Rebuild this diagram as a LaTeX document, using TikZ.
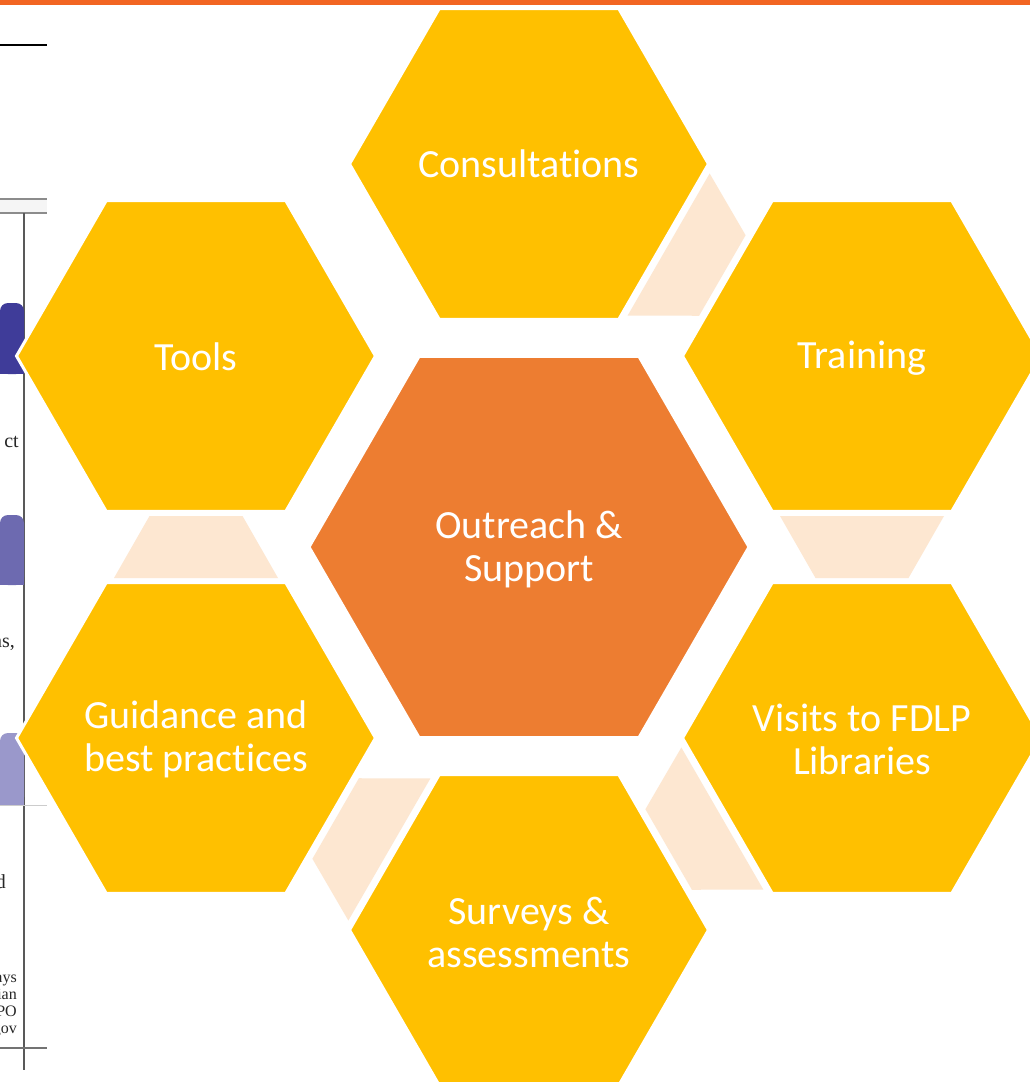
\documentclass[tikz,border=0pt]{standalone}
\usepackage{fontspec}
\setmainfont{Carlito}[Ligatures=NoCommon]
\newfontfamily\docfont{Liberation Serif}
\definecolor{hexyellow}{HTML}{FFC000}
\definecolor{hexorange}{HTML}{ED7D31}
\definecolor{peach}{HTML}{FDE7D1}
\definecolor{topbar}{HTML}{F26522}
\definecolor{boxA}{HTML}{3F3C99}
\definecolor{boxB}{HTML}{6D6AB0}
\definecolor{boxC}{HTML}{9A98CB}
\newcommand{\hexshape}[4]{%
  \filldraw[fill=#4, draw=white, line width=3pt]
    (#1,#2) +(0:#3) -- +(60:#3) -- +(120:#3) -- +(180:#3) -- +(240:#3) -- +(300:#3) -- cycle;}
\newcommand{\linkshape}[3]{%
  \begin{scope}[shift={(#1,#2)}, rotate=#3]
    \fill[peach] (-31,-82) -- (-31,82) -- (31,46.5) -- (31,-46.5) -- cycle;
  \end{scope}}
\tikzset{
  hextext/.style={text=white, align=center, font=\fontsize{40}{43}\selectfont},
  doctext/.style={anchor=base east, font=\docfont\fontsize{20}{22}\selectfont, text=black!85, inner sep=0pt},
  docsmall/.style={anchor=base east, font=\docfont\fontsize{16}{17}\selectfont, text=black!85, inner sep=0pt}
}
\begin{document}
\begin{tikzpicture}[x=1pt,y=-1pt]
\useasboundingbox (0,0) rectangle (1030,1082);
\fill[white] (0,0) rectangle (1030,1082);
% left document fragments
\draw[black, line width=1.2pt] (0,45) -- (47,45);
\fill[black!4] (0,199) rectangle (47,213);
\draw[black!45, line width=1.8pt] (0,199) -- (47,199);
\draw[black!45, line width=1.8pt] (0,213) -- (47,213);
\draw[black!65, line width=1.3pt] (24,213) -- (24,1070);
\fill[boxA, rounded corners=8pt] (0,374) -- (0,303) -- (24,303) -- (24,374) -- cycle;
\fill[boxA] (0,360) rectangle (24,374);
\fill[boxB, rounded corners=8pt] (0,585) -- (0,515) -- (24,515) -- (24,585) -- cycle;
\fill[boxB] (0,570) rectangle (24,585);
\fill[boxC, rounded corners=8pt] (0,805) -- (0,733) -- (24,733) -- (24,805) -- cycle;
\fill[boxC] (0,790) rectangle (24,805);
\draw[black!20, line width=1pt] (0,805) -- (47,805);
\node[doctext] (t1) at (19,447) {ct};
\node[doctext] (t2) at (15,647) {ns,};
\node[doctext] (t3) at (6,888) {d};
\node[docsmall] (t4) at (17,982) {ays};
\node[docsmall] (t5) at (17,999) {ian};
\node[docsmall] (t6) at (17,1016) {PO};
\node[docsmall] (t7) at (17,1033) {gov};
\draw[black!55, line width=1.5pt] (0,1048) -- (47,1048);
% top bar
\fill[topbar] (0,0) rectangle (1030,5);
% link shapes
\linkshape{695.5}{260}{-30}
\linkshape{862}{547}{-90}
\linkshape{695.5}{834}{-150}
\linkshape{362.5}{834}{-210}
\linkshape{196}{547}{-270}
% hexagons
\hexshape{529}{547}{220}{hexorange}
\hexshape{529}{164}{179.5}{hexyellow}
\hexshape{862}{356}{179.5}{hexyellow}
\hexshape{862}{738}{179.5}{hexyellow}
\hexshape{529}{930}{179.5}{hexyellow}
\hexshape{196}{738}{179.5}{hexyellow}
\hexshape{196}{356}{179.5}{hexyellow}
% labels
\node[hextext] (center) at (529,549) {Outreach \&\\Support};
\node[hextext] (consult) at (529,164) {Consultations};
\node[hextext] (training) at (862,358) {Training};
\node[hextext] (visits) at (862,739) {Visits to FDLP\\Libraries};
\node[hextext] (surveys) at (529,932) {Surveys \&\\assessments};
\node[hextext] (guidance) at (196,739) {Guidance and\\best practices};
\node[hextext] (tools) at (196,357) {Tools};
\end{tikzpicture}
\end{document}
